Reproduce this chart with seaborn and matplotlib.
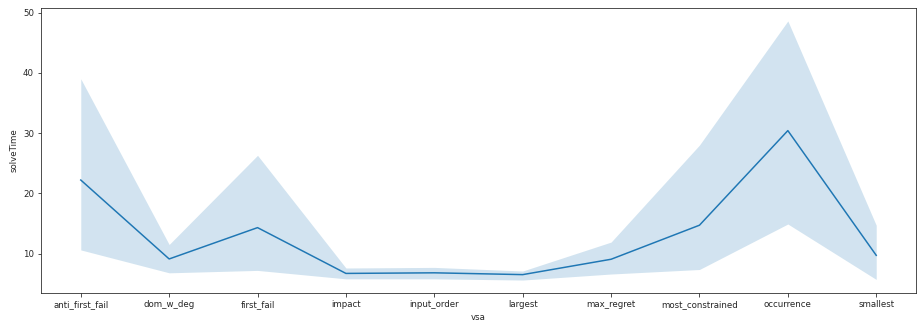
import matplotlib
matplotlib.use("Agg")
import matplotlib.pyplot as plt
import seaborn as sns
import pandas as pd

# Mean solve time per variable selection heuristic, with 95% CI bounds
vsa = ["anti_first_fail", "dom_w_deg", "first_fail", "impact", "input_order",
       "largest", "max_regret", "most_constrained", "occurrence", "smallest"]
solve_mean = [22.2, 9.1, 14.3, 6.7, 6.8, 6.5, 9.05, 14.7, 30.4, 9.7]
ci_upper = [39.0, 11.5, 26.3, 7.6, 7.7, 7.1, 11.9, 28.0, 48.6, 14.7]
ci_lower = [10.6, 6.8, 7.2, 5.8, 5.8, 5.6, 6.6, 7.35, 14.9, 5.7]

df = pd.DataFrame({"vsa": vsa, "solveTime": solve_mean,
                   "lo": ci_lower, "hi": ci_upper})

plt.rcParams["font.size"] = 8.6
plt.rcParams["text.color"] = "#262626"
plt.rcParams["axes.labelcolor"] = "#262626"
plt.rcParams["xtick.color"] = "#262626"
plt.rcParams["ytick.color"] = "#262626"
plt.rcParams["axes.edgecolor"] = "#262626"

fig, ax = plt.subplots(figsize=(919/72, 322/72), dpi=72)
fig.subplots_adjust(left=41/919, right=916/919, top=1-8/322, bottom=1-293/322)

sns.lineplot(data=df, x="vsa", y="solveTime", ax=ax, color="#1f77b4", lw=1.5)
ax.fill_between(df["vsa"], df["lo"], df["hi"], color="#1f77b4", alpha=0.2, lw=0)

ax.set_xlabel("vsa")
ax.set_ylabel("solveTime")
ax.set_yticks([10, 20, 30, 40, 50])

fig.savefig("out.png", dpi=72)
